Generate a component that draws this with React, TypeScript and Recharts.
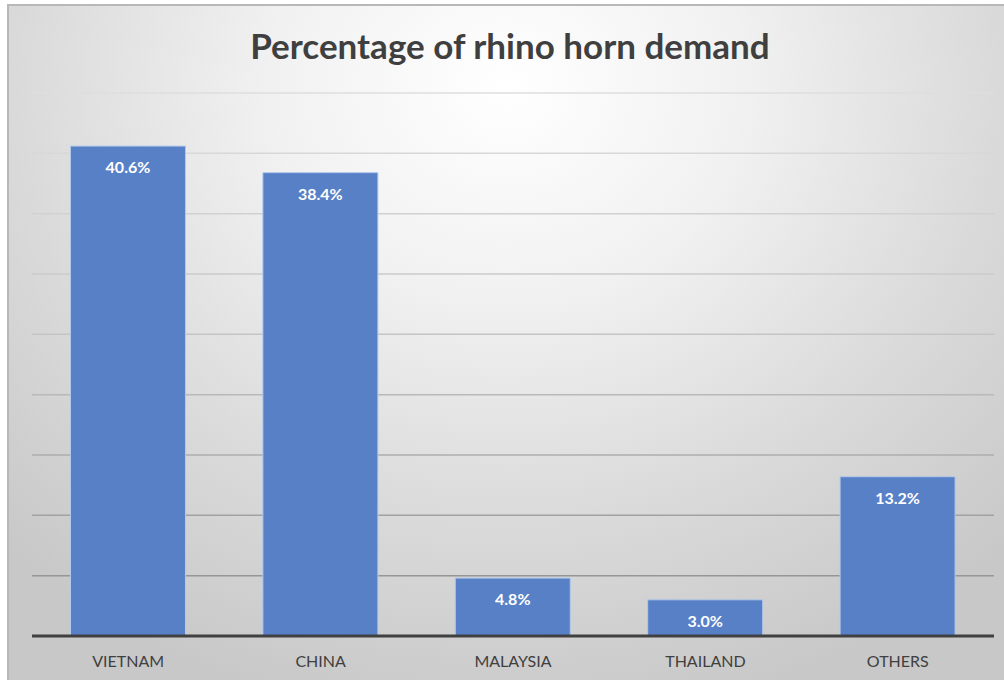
import React from "react";
import { Bar, BarChart, CartesianGrid, LabelList, XAxis, YAxis } from "recharts";

const countries = ["VIETNAM", "CHINA", "MALAYSIA", "THAILAND", "OTHERS"];
const demandShare = [40.6, 38.4, 4.8, 3.0, 13.2];
const gridTicks = [0, 5, 10, 15, 20, 25, 30, 35, 40, 45];

const data = countries.map((country, i) => ({ country, share: demandShare[i] }));

const WIDTH = 1004;
const HEIGHT = 682;
const FONT = "Lato, 'Open Sans', sans-serif";

export default function App() {
  return (
    <div
      style={{
        position: "absolute",
        left: 0,
        top: 0,
        width: WIDTH,
        height: HEIGHT,
        background: "#ffffff",
      }}
    >
      <div
        style={{
          position: "absolute",
          left: 7,
          top: 4,
          right: 0,
          bottom: 2,
          borderLeft: "2px solid #b8b8b8",
          borderTop: "2px solid #b8b8b8",
          background:
            "radial-gradient(ellipse 72% 95% at 50% 12%, #ffffff 0%, #f1f1f1 33%, #dadada 68%, #c8c8c8 100%)",
        }}
      />
      <div
        style={{
          position: "absolute",
          left: 0,
          width: WIDTH + 16,
          top: 22,
          textAlign: "center",
          fontFamily: FONT,
          fontWeight: 700,
          fontSize: 35,
          color: "#3f3f3f",
          lineHeight: "46px",
        }}
      >
        Percentage of rhino horn demand
      </div>
      <div style={{ position: "absolute", left: 0, top: 0 }}>
        <BarChart
          width={WIDTH}
          height={HEIGHT}
          data={data}
          margin={{ top: 93, right: 10, bottom: 16, left: 32 }}
          barCategoryGap="20%"
        >
          <defs>
            <linearGradient id="gridFade" gradientUnits="userSpaceOnUse" x1="0" y1="93" x2="0" y2="636">
              <stop offset="0%" stopColor="#dedede" />
              <stop offset="45%" stopColor="#c4c4c4" />
              <stop offset="100%" stopColor="#8a8a8a" />
            </linearGradient>
          </defs>
          <CartesianGrid vertical={false} stroke="url(#gridFade)" strokeWidth={1.5} />
          <YAxis hide domain={[0, 45]} ticks={gridTicks} />
          <XAxis
            dataKey="country"
            axisLine={{ stroke: "#404040", strokeWidth: 3 }}
            tickLine={false}
            tickMargin={14}
            tick={{ fill: "#404040", fontSize: 16, fontFamily: FONT }}
          />
          <Bar dataKey="share" fill="#5880c7" stroke="#b4c8ea" strokeWidth={1} isAnimationActive={false}>
            <LabelList
              dataKey="share"
              position="insideTop"
              offset={16}
              formatter={(v: number) => `${v.toFixed(1)}%`}
              fill="#ffffff"
              fontSize={16}
              fontWeight={700}
              fontFamily={FONT}
            />
          </Bar>
        </BarChart>
      </div>
    </div>
  );
}
